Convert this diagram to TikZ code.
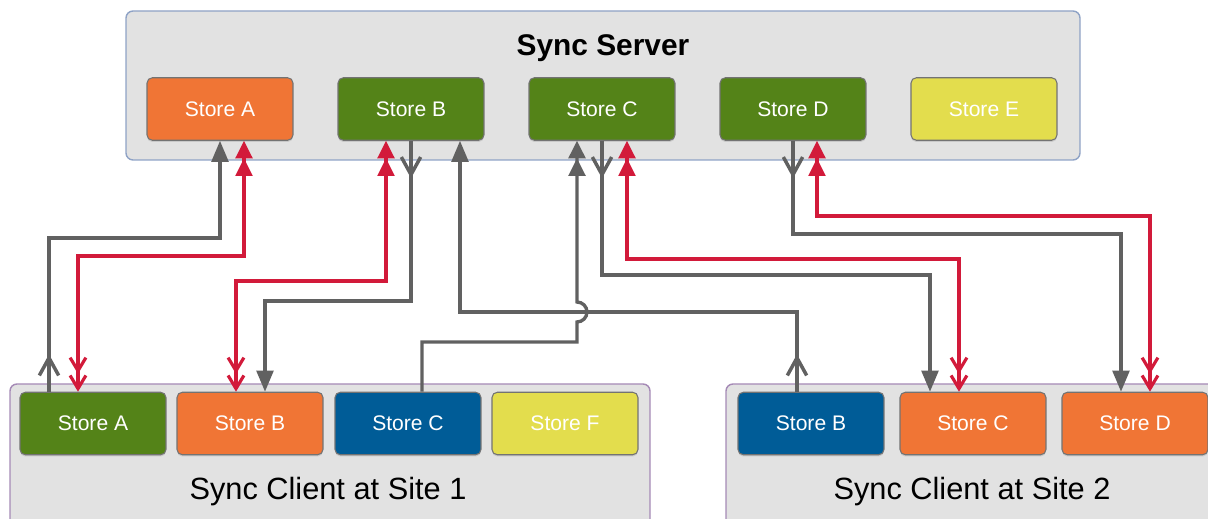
\documentclass[tikz,border=0pt]{standalone}
\usepackage{fontspec}
\setmainfont{Liberation Sans}
\usetikzlibrary{arrows.meta,calc,decorations.markings,shadows}

\definecolor{storeorange}{HTML}{F07535}
\definecolor{storegreen}{HTML}{548318}
\definecolor{storeblue}{HTML}{005C97}
\definecolor{storeyellow}{HTML}{E3DD4D}
\definecolor{boxgray}{HTML}{E2E2E2}
\definecolor{serverline}{HTML}{8FA3C6}
\definecolor{clientline}{HTML}{A58AB6}
\definecolor{flowgray}{HTML}{616161}
\definecolor{syncred}{HTML}{D21A3A}

\tikzset{
  store/.style={draw=black!55, line width=0.6pt, rounded corners=3pt, minimum width=2.92cm, minimum height=1.25cm, inner sep=0pt, text=white, font=\fontsize{12}{14}\selectfont, drop shadow={opacity=0.25, shadow xshift=0pt, shadow yshift=-1pt}},
  serverbox/.style={draw=serverline, fill=boxgray, line width=0.8pt, rounded corners=4pt},
  clientbox/.style={draw=clientline, fill=boxgray, line width=0.8pt, rounded corners=4pt},
  flow/.style={line width=1.9pt, color=flowgray, -{Triangle[length=12pt,width=9.5pt]}},
  tail/.style={postaction={decorate, decoration={markings, mark=at position 0.75cm with {\arrow{Straight Barb[length=10pt,width=11pt,line width=2pt]}}}}},
  sync/.style={line width=1.8pt, color=syncred, {Triangle[length=10pt,width=9.5pt]Triangle[length=10pt,width=9.5pt]}-{Straight Barb[length=7.5pt,width=9pt]Straight Barb[length=7.5pt,width=9pt]}}
}

\begin{document}
\begin{tikzpicture}[x=0.02cm, y=-0.02cm]
  \path[use as bounding box] (0,0) rectangle (1208,519);
  \clip (0,0) rectangle (1208,519);

  % server and clients
  \draw[serverbox] (126,11) rectangle (1080,160);
  \draw[clientbox] (10,384) rectangle (650,540);
  \draw[clientbox] (726,384) rectangle (1230,540);
  \node[font=\bfseries\fontsize{17}{20}\selectfont] (servertitle) at (603,48) {Sync Server};
  \node[font=\fontsize{17.5}{21}\selectfont] (client1title) at (328,492) {Sync Client at Site 1};
  \node[font=\fontsize{17.5}{21}\selectfont] (client2title) at (972,492) {Sync Client at Site 2};

  \node[store, fill=storeorange] (sA) at (220,109) {Store A};
  \node[store, fill=storegreen] (sB) at (411,109) {Store B};
  \node[store, fill=storegreen] (sC) at (602,109) {Store C};
  \node[store, fill=storegreen] (sD) at (793,109) {Store D};
  \node[store, fill=storeyellow] (sE) at (984,109) {Store E};

  \node[store, fill=storegreen] (c1A) at (93,423.5) {Store A};
  \node[store, fill=storeorange] (c1B) at (250,423.5) {Store B};
  \node[store, fill=storeblue] (c1C) at (408,423.5) {Store C};
  \node[store, fill=storeyellow] (c1F) at (565,423.5) {Store F};

  \node[store, fill=storeblue] (c2B) at (811,423.5) {Store B};
  \node[store, fill=storeorange] (c2C) at (973,423.5) {Store C};
  \node[store, fill=storeorange] (c2D) at (1135,423.5) {Store D};

  % site 1
  \draw[flow, tail] ($(c1A.north)+(-44,0)$) |- (220,238) -- (sA.south);
  \draw[sync] ($(sA.south)+(24,0)$) |- (78,256) -- ($(c1A.north)+(-15,0)$);
  \draw[sync] ($(sB.south)+(-25,0)$) |- (236,281) -- ($(c1B.north)+(-14,0)$);
  \draw[flow, tail] (sB.south) |- (265,301) -- ($(c1B.north)+(15,0)$);
  \draw[flow, -{Triangle[length=10pt,width=9.5pt]Triangle[length=10pt,width=9.5pt]}] ($(c1C.north)+(14,0)$) |- (577,342) -- (577,322) arc[start angle=-90, end angle=90, radius=0.2cm] -- ($(sC.south)+(-25,0)$);

  % site 2
  \draw[flow, tail] ($(c2B.north)+(-14,0)$) |- (460,312) -- ($(sB.south)+(49,0)$);
  \draw[flow, tail] (sC.south) |- (930,275) -- ($(c2C.north)+(-43,0)$);
  \draw[sync] ($(sC.south)+(25,0)$) |- (959,259) -- ($(c2C.north)+(-14,0)$);
  \draw[flow, tail] (sD.south) |- (1121,234) -- ($(c2D.north)+(-14,0)$);
  \draw[sync] ($(sD.south)+(24,0)$) |- (1150,216) -- ($(c2D.north)+(15,0)$);
\end{tikzpicture}
\end{document}
